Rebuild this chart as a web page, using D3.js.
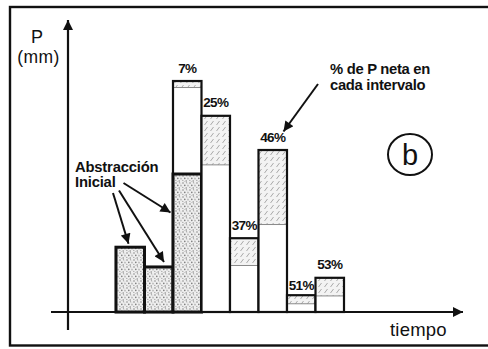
<!DOCTYPE html>
<html>
<head>
<meta charset="utf-8">
<script src="https://cdn.jsdelivr.net/npm/d3@7"></script>
<style>
  body { margin: 0; background: #fff; }
  svg { display: block; }
  text { font-family: "Liberation Sans", Arial, Helvetica, sans-serif; fill: #111; }
</style>
</head>
<body>
<svg id="chart" width="488" height="349"></svg>
<script>
// Rainfall per time interval (mm), the part taken by the initial abstraction,
// and the share of net rainfall once the initial abstraction is satisfied.
const intervals = ["1", "2", "3", "4", "5", "6", "7", "8"];
const precipitation = [10.8, 7.5, 38.5, 32.7, 12.3, 27.0, 2.8, 5.7];
const initialAbstraction = [10.8, 7.5, 23.0, 0, 0, 0, 0, 0];
const netPercent = [null, null, 7, 25, 37, 46, 51, 53];

const rows = intervals.map((k, i) => {
  const P = precipitation[i];
  const Ia = initialAbstraction[i];
  const pct = netPercent[i];
  const net = pct == null ? 0 : (pct / 100) * (P - Ia);
  return { k, i, P, Ia, pct, net };
});

const svg = d3.select("#chart");
const W = 488;

const x = d3.scaleBand().domain(intervals).range([116, 344]).paddingInner(0).paddingOuter(0);
const y = d3.scaleLinear().domain([0, 48.67]).range([312, 20]);

// ---- patterns -------------------------------------------------------------
const defs = svg.append("defs");

// stippled fill for the initial abstraction
const dots = defs.append("pattern")
  .attr("id", "stipple").attr("patternUnits", "userSpaceOnUse")
  .attr("width", 7).attr("height", 7);
dots.append("rect").attr("width", 7).attr("height", 7).attr("fill", "#efefef");
[[1, 1, 0.8, "#8a8a8a"], [4.5, 0.8, 0.7, "#aaa"], [2.8, 3.4, 0.8, "#7a7a7a"], [6, 3.8, 0.7, "#999"],
 [0.8, 5.4, 0.7, "#aaa"], [4.2, 6, 0.8, "#8a8a8a"], [5.9, 1.9, 0.5, "#bbb"], [2.3, 6.6, 0.5, "#bbb"]]
  .forEach(([cx, cy, r, c]) => dots.append("circle").attr("cx", cx).attr("cy", cy).attr("r", r).attr("fill", c));

// dashed diagonal hatch for net rainfall
const hatch = defs.append("pattern")
  .attr("id", "hatch").attr("patternUnits", "userSpaceOnUse")
  .attr("width", 6).attr("height", 6);
hatch.append("rect").attr("width", 6).attr("height", 6).attr("fill", "#f3f3f3");
hatch.append("line").attr("x1", 0.5).attr("y1", 5).attr("x2", 3.5).attr("y2", 1)
  .attr("stroke", "#a0a0a0").attr("stroke-width", 0.9);

const arrow = defs.append("marker")
  .attr("id", "arrow").attr("viewBox", "0 0 10 10")
  .attr("refX", 10).attr("refY", 5)
  .attr("markerUnits", "userSpaceOnUse")
  .attr("markerWidth", 12).attr("markerHeight", 10)
  .attr("orient", "auto");
arrow.append("path").attr("d", "M0,0 L10,5 L0,10 Z").attr("fill", "#111");

// ---- frame -----------------------------------------------------------------
svg.append("rect")
  .attr("x", 10).attr("y", 7).attr("width", W - 10 + 5).attr("height", 338.5)
  .attr("fill", "none").attr("stroke", "#111").attr("stroke-width", 2.4);

// ---- bars ------------------------------------------------------------------
const bars = svg.append("g");
const g = bars.selectAll("g").data(rows).join("g");

// white body
g.append("rect")
  .attr("x", d => x(d.k)).attr("width", x.bandwidth())
  .attr("y", d => y(d.P)).attr("height", d => y(0) - y(d.P))
  .attr("fill", "#fff");

// net rainfall on top
g.filter(d => d.net > 0).append("rect")
  .attr("x", d => x(d.k)).attr("width", x.bandwidth())
  .attr("y", d => y(d.P)).attr("height", d => y(d.P - d.net) - y(d.P))
  .attr("fill", "url(#hatch)");
g.filter(d => d.net > 0).append("line")
  .attr("x1", d => x(d.k)).attr("x2", d => x(d.k) + x.bandwidth())
  .attr("y1", d => y(d.P - d.net)).attr("y2", d => y(d.P - d.net))
  .attr("stroke", "#8a8a8a").attr("stroke-width", 1);

// outline of each interval
g.append("rect")
  .attr("x", d => x(d.k)).attr("width", x.bandwidth())
  .attr("y", d => y(d.P)).attr("height", d => y(0) - y(d.P))
  .attr("fill", "none").attr("stroke", "#111").attr("stroke-width", 2.2);

// initial abstraction at the bottom
g.filter(d => d.Ia > 0).append("rect")
  .attr("x", d => x(d.k)).attr("width", x.bandwidth())
  .attr("y", d => y(d.Ia)).attr("height", d => y(0) - y(d.Ia))
  .attr("fill", "url(#stipple)").attr("stroke", "#111").attr("stroke-width", 3);

// percentage labels
g.filter(d => d.pct != null).append("text")
  .attr("x", d => x(d.k) + x.bandwidth() / 2)
  .attr("y", d => y(d.P) - (d.P < 4 ? 5 : 8.5))
  .attr("text-anchor", "middle")
  .attr("font-size", 13.5).attr("font-weight", "bold").attr("letter-spacing", -0.7)
  .text(d => d.pct + "%");

// ---- axes ------------------------------------------------------------------
svg.append("line")
  .attr("x1", 51).attr("x2", 463).attr("y1", y(0)).attr("y2", y(0))
  .attr("stroke", "#111").attr("stroke-width", 2.2).attr("marker-end", "url(#arrow)");
svg.append("line")
  .attr("x1", 68).attr("x2", 68).attr("y1", 330).attr("y2", 20)
  .attr("stroke", "#111").attr("stroke-width", 2.2).attr("marker-end", "url(#arrow)");

svg.append("text").attr("x", 37).attr("y", 42.5).attr("text-anchor", "middle")
  .attr("font-size", 18).text("P");
svg.append("text").attr("x", 38.5).attr("y", 62.5).attr("text-anchor", "middle")
  .attr("font-size", 17.5).attr("letter-spacing", 0.4).text("(mm)");
svg.append("text").attr("x", 390).attr("y", 336).attr("font-size", 18.5)
  .attr("letter-spacing", 0.2).text("tiempo");

// ---- annotations -----------------------------------------------------------
const ann = svg.append("g");
ann.append("text").attr("x", 75).attr("y", 171.5).attr("font-size", 14.8)
  .attr("font-weight", "bold").attr("letter-spacing", -0.2).text("Abstracci\u00f3n");
ann.append("text").attr("x", 75).attr("y", 186.5).attr("font-size", 14.8)
  .attr("font-weight", "bold").attr("letter-spacing", -0.2).text("Inicial");

const r0 = rows[0], r1 = rows[1], r2 = rows[2];
const absArrows = [
  [113, 193, x(r0.k) + 12.5, y(r0.P) - 3.5],
  [119, 190.5, x(r1.k) + 19.5, y(r1.P) - 5],
  [123.5, 183, x(r2.k) - 2.5, y(r2.Ia) + 38.5]
];
ann.selectAll("line.abs").data(absArrows).join("line").attr("class", "abs")
  .attr("x1", d => d[0]).attr("y1", d => d[1]).attr("x2", d => d[2]).attr("y2", d => d[3])
  .attr("stroke", "#111").attr("stroke-width", 2).attr("marker-end", "url(#arrow)");

ann.append("text").attr("x", 330).attr("y", 74).attr("font-size", 14.8)
  .attr("font-weight", "bold").attr("letter-spacing", -0.3).text("% de P neta en");
ann.append("text").attr("x", 330).attr("y", 89.5).attr("font-size", 14.8)
  .attr("font-weight", "bold").attr("letter-spacing", -0.3).text("cada intervalo");
ann.append("line")
  .attr("x1", 318).attr("y1", 84).attr("x2", 283.5).attr("y2", 131.5)
  .attr("stroke", "#111").attr("stroke-width", 2).attr("marker-end", "url(#arrow)");

// panel tag
ann.append("ellipse").attr("cx", 410).attr("cy", 154.5).attr("rx", 22).attr("ry", 20.5)
  .attr("fill", "none").attr("stroke", "#111").attr("stroke-width", 2);
ann.append("text").attr("x", 410).attr("y", 164.5).attr("text-anchor", "middle")
  .attr("font-size", 29).text("b");
</script>
</body>
</html>
